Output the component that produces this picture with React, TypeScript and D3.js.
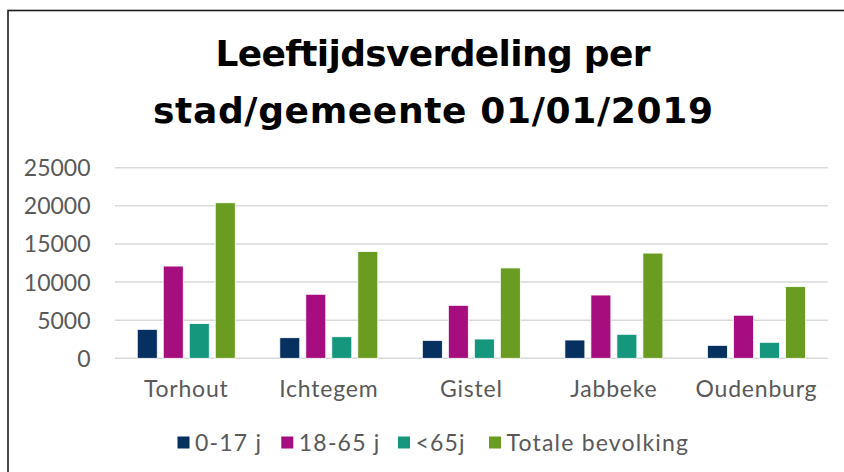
import React, { useEffect, useRef } from 'react';
import * as d3 from 'd3';

const cities = ['Torhout', 'Ichtegem', 'Gistel', 'Jabbeke', 'Oudenburg'];
const series = ['0-17 j', '18-65 j', '<65j', 'Totale bevolking'];
const colors = ['#06305f', '#a60e80', '#14977d', '#6a9c21'];
const jong = [3800, 2700, 2350, 2400, 1700];
const actief = [12100, 8400, 6950, 8300, 5650];
const ouder = [4550, 2830, 2530, 3150, 2100];
const totaal = [20400, 14000, 11850, 13800, 9400];
const yTicks = [0, 5000, 10000, 15000, 20000, 25000];
const titleLines = ['Leeftijdsverdeling per', 'stad/gemeente 01/01/2019'];

const labelFont = 'Lato, "DejaVu Sans", sans-serif';

export default function App() {
  const svgRef = useRef<SVGSVGElement>(null);

  useEffect(() => {
    const svg = d3.select(svgRef.current);
    svg.selectAll('*').remove();

    const values = [jong, actief, ouder, totaal];
    const plot = { left: 115, right: 827.7, top: 167.7, bottom: 358.3 };

    // chart frame (right/bottom edges fall outside the picture)
    svg.append('rect')
      .attr('x', 8).attr('y', 10.5)
      .attr('width', 860).attr('height', 480)
      .attr('fill', '#fff')
      .attr('stroke', '#1a1a1a')
      .attr('stroke-width', 1.6);

    // title, stretched to the width of the original lines
    const titleWidths = [435, 560];
    svg.append('g')
      .selectAll('text')
      .data(titleLines)
      .enter()
      .append('text')
      .attr('x', 433)
      .attr('y', (d, i) => 66 + i * 57)
      .attr('text-anchor', 'middle')
      .attr('textLength', (d, i) => titleWidths[i])
      .attr('lengthAdjust', 'spacing')
      .style('font-family', '"DejaVu Sans", sans-serif')
      .style('font-weight', 'bold')
      .style('font-size', '36px')
      .attr('fill', '#000')
      .text((d) => d);

    const x0 = d3.scaleBand().domain(cities).range([plot.left, plot.right]);
    const x1 = d3.scaleBand()
      .domain(series)
      .range([22.25, 120.25])
      .paddingInner(0.2308);
    const y = d3.scaleLinear().domain([0, 25000]).range([plot.bottom, plot.top]);

    // gridlines
    svg.append('g')
      .selectAll('line')
      .data(yTicks)
      .enter()
      .append('line')
      .attr('x1', plot.left).attr('x2', plot.right)
      .attr('y1', (d) => y(d)).attr('y2', (d) => y(d))
      .attr('stroke', '#d9d9d9')
      .attr('stroke-width', 1.6);

    // y tick labels
    svg.append('g')
      .selectAll('text')
      .data(yTicks)
      .enter()
      .append('text')
      .attr('x', 90.5)
      .attr('y', (d) => y(d) + 8.5)
      .attr('text-anchor', 'end')
      .style('font-family', labelFont)
      .style('font-size', '23px')
      .attr('fill', '#595959')
      .text((d) => d);

    // bars
    const groups = svg.append('g')
      .selectAll('g')
      .data(cities)
      .enter()
      .append('g')
      .attr('transform', (d) => `translate(${x0(d)},0)`);

    groups.selectAll('rect')
      .data((c, ci) => series.map((s, si) => ({ s, si, v: values[si][ci] })))
      .enter()
      .append('rect')
      .attr('x', (d) => x1(d.s)!)
      .attr('y', (d) => y(d.v))
      .attr('width', x1.bandwidth())
      .attr('height', (d) => plot.bottom - y(d.v))
      .attr('fill', (d) => colors[d.si])
      .attr('stroke', '#fff')
      .attr('stroke-width', 0.8);

    // category labels
    svg.append('g')
      .selectAll('text')
      .data(cities)
      .enter()
      .append('text')
      .attr('x', (d) => x0(d)! + x0.bandwidth() / 2)
      .attr('y', 397)
      .attr('text-anchor', 'middle')
      .style('font-family', labelFont)
      .style('font-size', '23px')
      .style('letter-spacing', '0.8px')
      .attr('fill', '#595959')
      .text((d) => d);

    // legend
    const legendX = [177.5, 281.3, 398, 489];
    const legend = svg.append('g')
      .selectAll('g')
      .data(series)
      .enter()
      .append('g')
      .attr('transform', (d, i) => `translate(${legendX[i]},0)`);
    legend.append('rect')
      .attr('x', 0).attr('y', 436.5)
      .attr('width', 12).attr('height', 12)
      .attr('fill', (d, i) => colors[i]);
    legend.append('text')
      .attr('x', 17.5)
      .attr('y', 450.5)
      .style('font-family', labelFont)
      .style('font-size', '23px')
      .style('letter-spacing', '1.2px')
      .attr('fill', '#595959')
      .text((d) => d);
  }, []);

  return (
    <svg
      ref={svgRef}
      width={844}
      height={472}
      style={{ position: 'absolute', left: 0, top: 0, background: '#fff' }}
    />
  );
}
